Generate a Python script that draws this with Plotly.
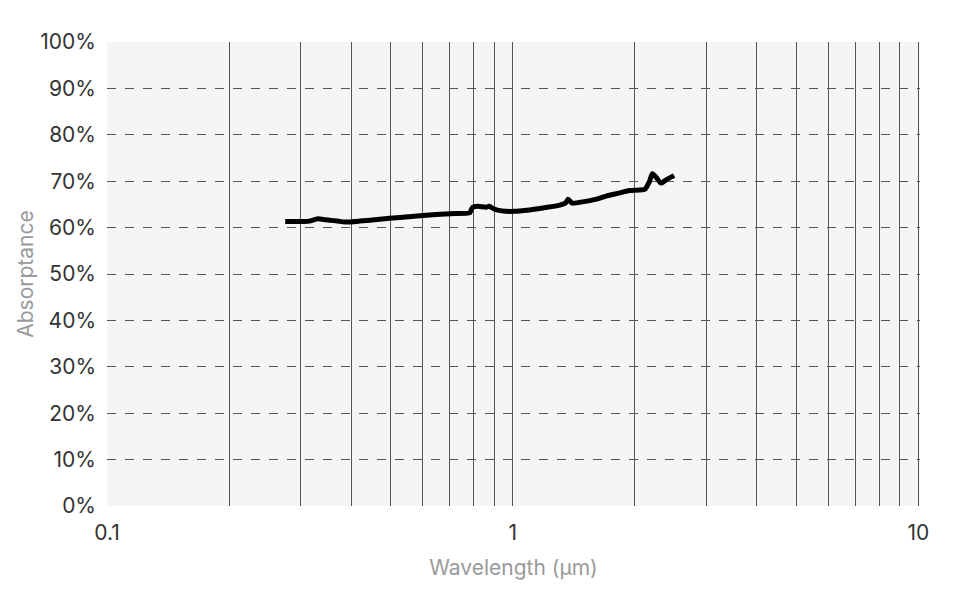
import plotly.graph_objects as go

# Absorptance curve
wavelength_um = [0.275, 0.29, 0.30, 0.315, 0.331, 0.345, 0.354, 0.37, 0.386, 0.42,
                 0.47, 0.527, 0.60, 0.70, 0.784, 0.790, 0.797, 0.82, 0.86, 0.875,
                 0.90, 0.94, 1.0, 1.1, 1.2, 1.30, 1.35, 1.37, 1.40, 1.5, 1.6,
                 1.70, 1.80, 1.94, 2.05, 2.12, 2.17, 2.21, 2.26, 2.32, 2.40, 2.50]
absorptance = [61.3, 61.3, 61.3, 61.4, 61.9, 61.7, 61.6, 61.4, 61.2, 61.4,
               61.8, 62.2, 62.6, 63.0, 63.2, 63.8, 64.4, 64.6, 64.4, 64.6,
               64.0, 63.6, 63.5, 63.8, 64.3, 64.8, 65.3, 66.1, 65.3, 65.6, 66.1,
               66.8, 67.3, 68.0, 68.1, 68.3, 69.8, 71.6, 70.8, 69.6, 70.4, 71.2]

x_tick_vals = [0.1, 1, 10]
x_tick_text = ["0.1", "1", "10"]
x_grid_vals = [0.2, 0.3, 0.4, 0.5, 0.6, 0.7, 0.8, 0.9, 1,
               2, 3, 4, 5, 6, 7, 8, 9, 10]
y_tick_vals = [0, 10, 20, 30, 40, 50, 60, 70, 80, 90, 100]
y_tick_text = [f"{v}%" for v in y_tick_vals]
y_grid_vals = [10, 20, 30, 40, 50, 60, 70, 80, 90]

FONT = "Inter"

fig = go.Figure()

fig.add_trace(go.Scatter(
    x=wavelength_um,
    y=absorptance,
    mode="lines",
    line=dict(color="#000000", width=5, shape="spline", smoothing=0.6),
    showlegend=False,
))

# page body has an 8px margin, so the figure itself is 949x584
fig.update_layout(
    margin=dict(l=99, r=37, t=34, b=86),
    paper_bgcolor="#ffffff",
    plot_bgcolor="#f5f5f5",
    font=dict(family=FONT, size=21, color="#333333"),
    xaxis=dict(
        type="log",
        range=[-1, 1.004],
        tickvals=x_tick_vals,
        ticktext=x_tick_text,
        showgrid=False,
        zeroline=False,
        showline=False,
        ticks="",
        ticklabelstandoff=12,
        minor=dict(tickvals=x_grid_vals, showgrid=True, gridcolor="#555555",
                   gridwidth=1, ticks=""),
        title=dict(text="Wavelength (µm)", font=dict(size=21, color="#9a9a9a"),
                   standoff=16),
    ),
    yaxis=dict(
        range=[0, 100],
        tickvals=y_tick_vals,
        ticktext=y_tick_text,
        showgrid=False,
        zeroline=False,
        showline=False,
        ticks="",
        ticklabelstandoff=10,
        minor=dict(tickvals=y_grid_vals, showgrid=True, gridcolor="#555555",
                   gridwidth=1, griddash="dash", ticks=""),
        title=dict(text="Absorptance", font=dict(size=21, color="#9a9a9a"),
                   standoff=0),
    ),
)

fig.write_html("out.html")
